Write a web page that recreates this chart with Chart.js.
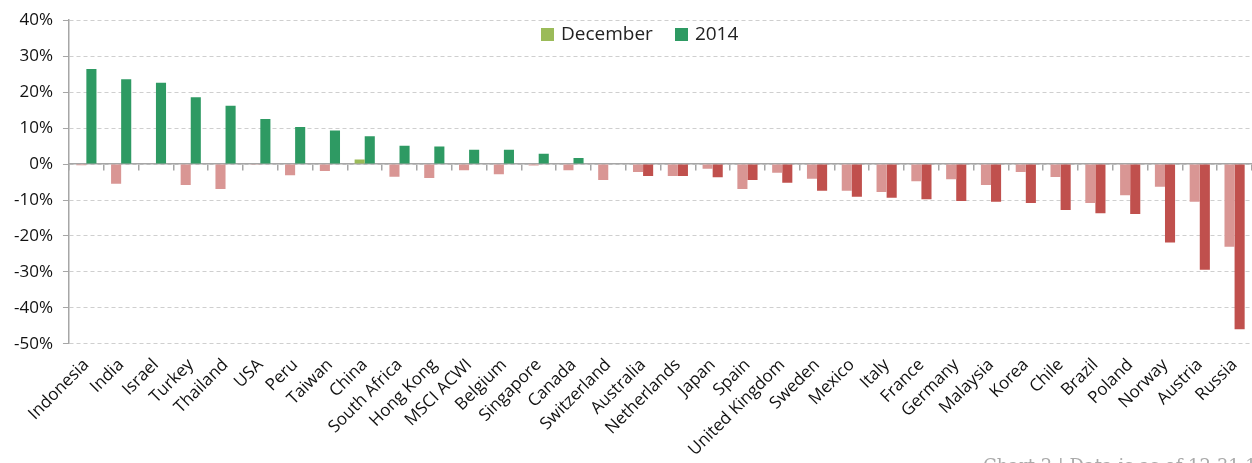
<!DOCTYPE html>
<html lang="en">
<head>
  <meta charset="UTF-8" />
  <title>December and 2014 returns</title>
  <script src="https://cdn.jsdelivr.net/npm/chart.js@4.4.1/dist/chart.umd.min.js"></script>
  <style>
    html, body { margin: 0; padding: 0; background: #fff; overflow: hidden; }
    #wrap { position: relative; width: 1252px; height: 463px; overflow: hidden; }
    #legend {
      position: absolute; top: 20px; left: 541px;
      font: 19px "Open Sans", sans-serif; color: #222;
      display: flex; gap: 22px; align-items: center;
    }
    #legend span.box { display: inline-block; width: 13px; height: 13px; margin-right: 7px; vertical-align: -1px; }
    #note {
      position: absolute; left: 983px; top: 455px;
      font: 18px "DejaVu Serif", serif; color: #aaa; white-space: nowrap;
    }
  </style>
</head>
<body>
<div id="wrap">
  <canvas id="returnsChart" width="1252" height="463"></canvas>
  <div id="legend"></div>
  <div id="note">Chart 2 | Data is as of 12.31.14</div>
</div>
<script>
  const countries = [
    "Indonesia", "India", "Israel", "Turkey", "Thailand", "USA", "Peru", "Taiwan",
    "China", "South Africa", "Hong Kong", "MSCI ACWI", "Belgium", "Singapore",
    "Canada", "Switzerland", "Australia", "Netherlands", "Japan", "Spain",
    "United Kingdom", "Sweden", "Mexico", "Italy", "France", "Germany", "Malaysia",
    "Korea", "Chile", "Brazil", "Poland", "Norway", "Austria", "Russia"
  ];

  // percent returns
  const december = [
    -0.3, -5.5, 0, -5.8, -6.9, -0.2, -3.1, -1.9,
    1.3, -3.5, -3.9, -1.7, -2.8, -0.4,
    -1.7, -4.4, -2.2, -3.3, -1.3, -6.9,
    -2.4, -4.1, -7.4, -7.8, -4.8, -4.2, -5.8,
    -2.2, -3.6, -10.8, -8.7, -6.3, -10.5, -23.0
  ];
  const year2014 = [
    26.4, 23.6, 22.6, 18.6, 16.2, 12.5, 10.3, 9.3,
    7.7, 5.1, 4.9, 4.0, 4.0, 2.9,
    1.7, 0, -3.3, -3.3, -3.7, -4.4,
    -5.2, -7.4, -9.1, -9.4, -9.8, -10.3, -10.5,
    -10.8, -12.8, -13.7, -13.9, -21.8, -29.4, -45.9
  ];

  const yTicks = [40, 30, 20, 10, 0, -10, -20, -30, -40, -50];

  const decUp = "#9bbb59", decDown = "#d99694";
  const yrUp = "#2e9a63", yrDown = "#c0504d";

  const font = "'Open Sans', sans-serif";

  const config = {
    type: "bar",
    data: {
      labels: countries,
      datasets: [
        {
          label: "December",
          data: december,
          backgroundColor: (c) => (c.raw >= 0 ? decUp : decDown),
          borderWidth: 0,
          legendColor: decUp,
        },
        {
          label: "2014",
          data: year2014,
          backgroundColor: (c) => (c.raw >= 0 ? yrUp : yrDown),
          borderWidth: 0,
          legendColor: yrUp,
        },
      ],
    },
    options: {
      responsive: false,
      animation: false,
      layout: { padding: { top: 8, right: 0, bottom: 0, left: 4 } },
      datasets: { bar: { barPercentage: 1, categoryPercentage: 0.58 } },
      plugins: {
        legend: { display: false },
        tooltip: { enabled: false },
      },
      scales: {
        x: {
          grid: { display: false },
          border: { display: false },
          ticks: {
            autoSkip: false,
            minRotation: 45,
            maxRotation: 45,
            color: "#111",
            font: { family: font, size: 17 },
            padding: 3,
          },
        },
        zero: {
          axis: "x",
          type: "category",
          labels: countries,
          position: { y: 0 },
          offset: true,
          ticks: { display: false },
          grid: { drawOnChartArea: false, offset: true, tickLength: 6, color: "#a6a6a6", lineWidth: 1.5 },
          border: { display: true, color: "#a6a6a6", width: 1.5 },
        },
        y: {
          min: -50,
          max: 40,
          afterBuildTicks: (axis) => {
            axis.ticks = yTicks.map((v) => ({ value: v }));
          },
          ticks: {
            callback: (v) => v + "%",
            color: "#111",
            font: { family: font, size: 17 },
            padding: 10,
          },
          grid: { color: "#cfcfcf", tickLength: 6, tickColor: "#a6a6a6", tickBorderDash: [] },
          border: { display: true, color: "#a6a6a6", width: 1.5, dash: [4, 3] },
        },
      },
    },
  };

  const chart = new Chart(document.getElementById("returnsChart"), config);

  const legend = document.getElementById("legend");
  chart.data.datasets.forEach((ds) => {
    const item = document.createElement("div");
    const box = document.createElement("span");
    box.className = "box";
    box.style.background = ds.legendColor;
    item.appendChild(box);
    item.appendChild(document.createTextNode(ds.label));
    legend.appendChild(item);
  });
</script>
</body>
</html>
